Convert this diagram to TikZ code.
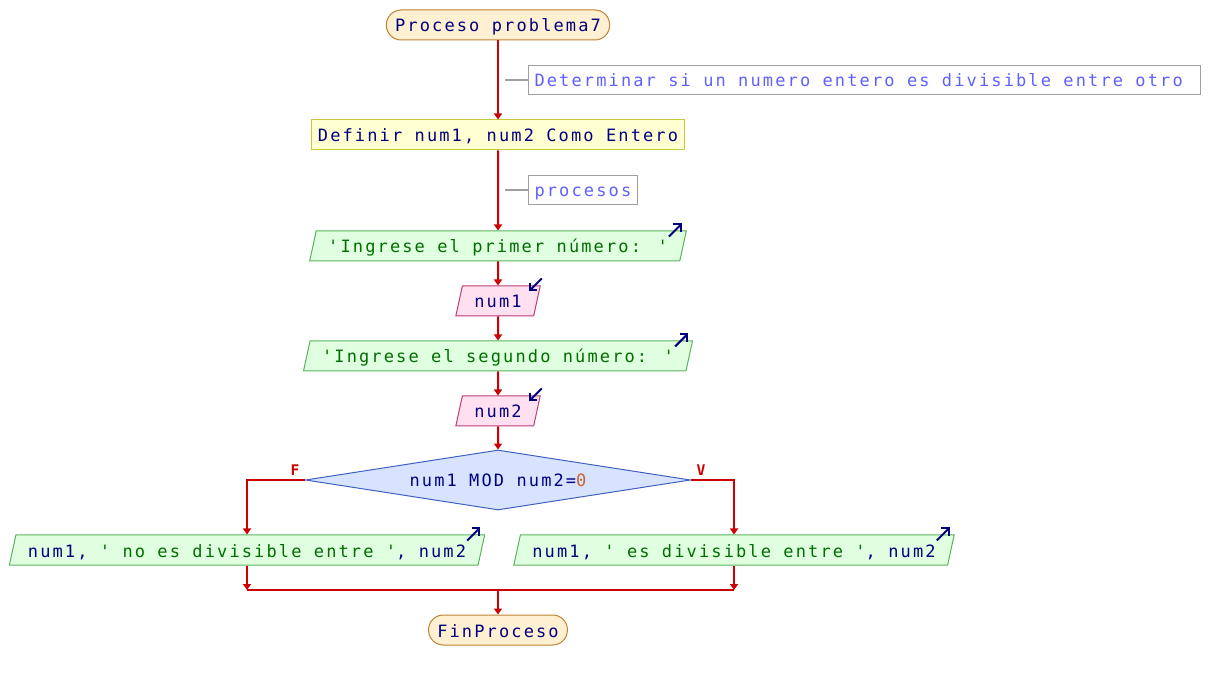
\documentclass[tikz,border=0pt]{standalone}
\usepackage{fontspec}
\newfontfamily\psfont{DejaVu Sans Mono}[LetterSpace=12.5]
\usetikzlibrary{shapes.geometric, arrows.meta, positioning}
\usepackage{xcolor}
\definecolor{flowred}{RGB}{204,0,0}
\definecolor{varnavy}{RGB}{0,0,128}
\definecolor{strgreen}{RGB}{0,110,0}
\definecolor{numbrown}{RGB}{200,100,40}
\definecolor{termfill}{RGB}{255,240,210}
\definecolor{termdraw}{RGB}{190,130,50}
\definecolor{deffill}{RGB}{255,255,210}
\definecolor{defdraw}{RGB}{200,200,60}
\definecolor{cmtdraw}{RGB}{160,160,160}
\definecolor{cmttext}{RGB}{96,96,255}
\definecolor{outfill}{RGB}{224,255,224}
\definecolor{outdraw}{RGB}{90,180,90}
\definecolor{infill}{RGB}{255,224,240}
\definecolor{indraw}{RGB}{190,60,120}
\definecolor{condfill}{RGB}{216,228,255}
\definecolor{conddraw}{RGB}{64,96,192}

\begin{document}
\begin{tikzpicture}[x=0.75pt, y=-0.75pt,
      base/.style={draw, line width=0.75pt, font=\psfont\fontsize{12.75pt}{15pt}\selectfont,
                   text=varnavy, minimum height=22.5pt, inner ysep=0pt,
                   text height=10.5pt, text depth=0pt},
      term/.style={base, rounded corners=11pt, draw=termdraw, fill=termfill, inner xsep=6.5pt},
      defbox/.style={base, draw=defdraw, fill=deffill, inner xsep=4.5pt},
      cmtbox/.style={base, draw=cmtdraw, text=cmttext, inner xsep=4.5pt, minimum height=21.75pt},
      outbox/.style={base, trapezium, trapezium left angle=65, trapezium right angle=115,
                     trapezium stretches body=true, draw=outdraw, fill=outfill, inner xsep=9pt},
      inbox/.style={outbox, draw=indraw, fill=infill},
      decision/.style={base, diamond, aspect=6.4, minimum width=288.75pt, minimum height=45pt,
                       inner sep=0pt, draw=conddraw, fill=condfill},
      flow/.style={-{Triangle[length=4.5pt, width=6pt]}, line width=1.5pt, flowred},
      flowline/.style={line width=1.5pt, flowred},
      cmtline/.style={line width=1pt, cmtdraw},
      lbl/.style={font=\psfont\bfseries\fontsize{11pt}{12pt}\selectfont, text=flowred, inner sep=1pt},
      icon/.style={-{Straight Barb[length=4pt, width=8pt]}, line width=1.5pt, varnavy}
    ]
    \useasboundingbox (0,0) rectangle (1210,680);

    \node[term] (start) at (498,25) {Proceso problema7};
    \node[defbox] (defvars) at (498,135) {Definir num1, num2 Como Entero};
    \node[outbox] (askone) at (498,246) {\color{strgreen}'Ingrese el primer número: '};
    \node[inbox] (readone) at (498,301) {num1};
    \node[outbox] (asktwo) at (498,356) {\color{strgreen}'Ingrese el segundo número: '};
    \node[inbox] (readtwo) at (498,411) {num2};
    \node[decision] (cond) at (498,480) {num1 MOD num2=\textcolor{numbrown}{0}};
    \node[outbox] (outno) at (247,550) {num1, \textcolor{strgreen}{' no es divisible entre '}, num2};
    \node[outbox] (outyes) at (734,550) {num1, \textcolor{strgreen}{' es divisible entre '}, num2};
    \node[term] (stop) at (498,630) {FinProceso};
    \coordinate (join) at (498,590);

    % comentarios
    \node[cmtbox, anchor=west] (cmtone) at (528,80)
      {\makebox[495pt][l]{Determinar si un numero entero es divisible entre otro}};
    \node[cmtbox, anchor=west] (cmttwo) at (528,190) {procesos};
    \coordinate (cmtonetail) at (505,80);
    \coordinate (cmttwotail) at (505,190);
    \draw[cmtline] (cmtonetail) -- (cmtone.west);
    \draw[cmtline] (cmttwotail) -- (cmttwo.west);

    \draw[flow] (start) -- (defvars);
    \draw[flow] (defvars) -- (askone);
    \draw[flow] (askone) -- (readone);
    \draw[flow] (readone) -- (asktwo);
    \draw[flow] (asktwo) -- (readtwo);
    \draw[flow] (readtwo) -- (cond);
    \draw[flow] (cond.west) -| (outno.north);
    \draw[flow] (cond.east) -| (outyes.north);
    \node[lbl, above left=2pt and 3pt of cond.west] (flbl) {F};
    \node[lbl, above right=2pt and 3pt of cond.east] (vlbl) {V};
    \draw[flow] (outno.south) -- (outno.south |- join);
    \draw[flow] (outyes.south) -- (outyes.south |- join);
    \draw[flowline] (outno.south |- join) -- (outyes.south |- join);
    \draw[flow] (join) -- (stop);

    % iconos de entrada/salida
    \draw[icon] ([shift={(-18,6)}]askone.top right corner) -- ++(13,-13);
    \draw[icon] ([shift={(-18,6)}]asktwo.top right corner) -- ++(13,-13);
    \draw[icon] ([shift={(-18,6)}]outno.top right corner) -- ++(13,-13);
    \draw[icon] ([shift={(-18,6)}]outyes.top right corner) -- ++(13,-13);
    \draw[icon] ([shift={(1,-7)}]readone.top right corner) -- ++(-13,13);
    \draw[icon] ([shift={(1,-7)}]readtwo.top right corner) -- ++(-13,13);
  \end{tikzpicture}
\end{document}
